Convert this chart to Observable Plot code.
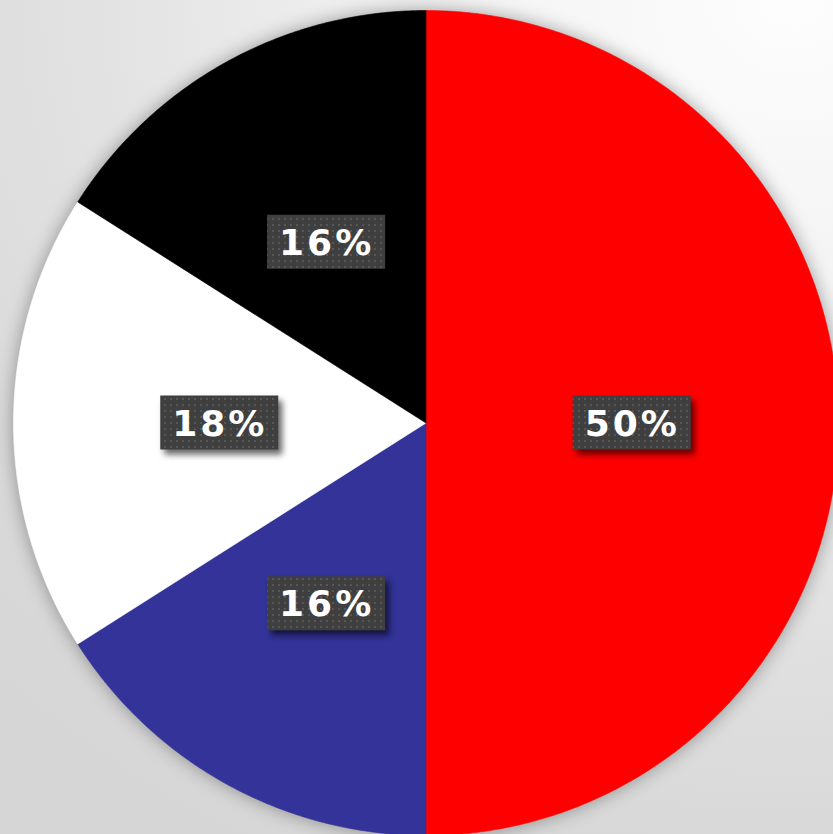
<!DOCTYPE html>
<html>
<head>
<meta charset="utf-8">
<script src="https://cdn.jsdelivr.net/npm/d3@7"></script>
<script src="https://cdn.jsdelivr.net/npm/@observablehq/plot@0.6"></script>
<style>
  html, body { margin: 0; padding: 0; }
  body {
    width: 833px; height: 834px; overflow: hidden;
    background: radial-gradient(ellipse 140% 120% at 95% 0%, #fdfdfd 0%, #f3f3f3 30%, #e2e2e2 60%, #d8d8d8 85%, #d6d6d6 100%);
  }
  #chart svg { display: block; }
</style>
</head>
<body>
<svg width="0" height="0" style="position:absolute">
  <defs>
    <pattern id="dots" width="6" height="6" patternUnits="userSpaceOnUse">
      <rect width="6" height="6" fill="#3f3f3f"></rect>
      <rect x="2" y="2" width="2" height="2" fill="#575757"></rect>
    </pattern>
  </defs>
</svg>
<div id="chart"></div>
<script>
// ---- data ----
const categories = ["Red slice", "Blue slice", "White slice", "Black slice"];
const values = [50, 16, 18, 16];
const labels = ["50%", "16%", "18%", "16%"];
const colors = ["#ff0000", "#333399", "#ffffff", "#000000"];

// ---- build slices from values ----
const pie = d3.pie().sort(null).value((d, i) => values[i]).startAngle(0).endAngle(2 * Math.PI);
const arcs = pie(categories);

const slicePts = [];
arcs.forEach((a, i) => {
  const n = Math.max(2, Math.ceil((a.endAngle - a.startAngle) / (Math.PI / 360)));
  slicePts.push({cat: categories[i], x: 0, y: 0});
  for (let k = 0; k <= n; k++) {
    const t = a.startAngle + (a.endAngle - a.startAngle) * k / n;
    slicePts.push({cat: categories[i], x: Math.sin(t), y: Math.cos(t)});
  }
  slicePts.push({cat: categories[i], x: 0, y: 0});
});

const labelPts = arcs.map((a, i) => {
  const m = (a.startAngle + a.endAngle) / 2;
  return {cat: categories[i], label: labels[i], x: 0.5 * Math.sin(m), y: 0.5 * Math.cos(m)};
});

const R = 412.5, cx = 425.5, cy = 422.5;
const bw = 118 / R / 2, bh = 54 / R / 2;

const chart = Plot.plot({
  width: 833,
  height: 834,
  margin: 0,
  style: {background: "transparent", overflow: "visible"},
  x: {domain: [-1, 1], range: [cx - R, cx + R], axis: null},
  y: {domain: [-1, 1], range: [cy + R, cy - R], axis: null},
  color: {type: "ordinal", domain: categories, range: colors},
  marks: [
    Plot.line(slicePts, {x: "x", y: "y", z: "cat", fill: "cat", stroke: "cat", strokeWidth: 0.6, curve: "linear"}),
    Plot.rect(labelPts, {
      x1: d => d.x - bw, x2: d => d.x + bw,
      y1: d => d.y - bh, y2: d => d.y + bh,
      fill: "url(#dots)"
    }),
    Plot.text(labelPts, {
      x: "x", y: "y", text: "label",
      fill: "white", fontSize: 36, fontWeight: "bold",
      fontFamily: "DejaVu Sans", dy: 1
    })
  ]
});

document.getElementById("chart").appendChild(chart);

const lineG = chart.querySelector('g[aria-label="line"]');
if (lineG) lineG.style.filter = "drop-shadow(0px 0px 9px rgba(0,0,0,0.35))";
const rectG = chart.querySelector('g[aria-label="rect"]');
if (rectG) rectG.style.filter = "drop-shadow(4px 5px 3px rgba(0,0,0,0.6))";
const textG = chart.querySelector('g[aria-label="text"]');
if (textG) textG.setAttribute("letter-spacing", "3");
</script>
</body>
</html>
